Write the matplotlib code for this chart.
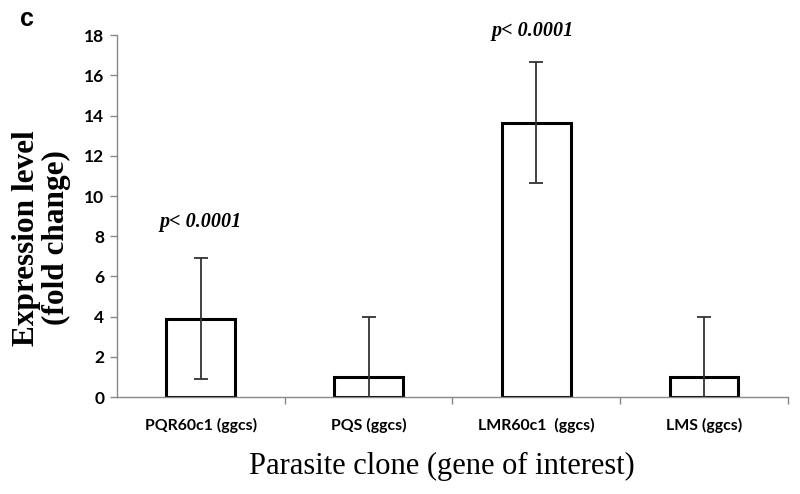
import matplotlib
matplotlib.use("Agg")
import matplotlib.pyplot as plt
import numpy as np

categories = ["PQR60c1 (ggcs)", "PQS (ggcs)", "LMR60c1  (ggcs)", "LMS (ggcs)"]
values = [3.9, 1.0, 13.65, 1.0]
errors = [3.0, 3.0, 3.0, 3.0]
yticks = [0, 2, 4, 6, 8, 10, 12, 14, 16, 18]
annot_index = [0, 2]
annot_text = ["p< 0.0001", "p< 0.0001"]

fig = plt.figure(figsize=(8, 4.94), dpi=100)
ax = fig.add_axes([0.146, 0.196, 0.839, 0.733])

x = np.arange(len(categories))
ax.bar(x, values, width=0.41, facecolor="white", edgecolor="black", linewidth=2.2, zorder=2)
ax.errorbar(x, values, yerr=errors, fmt="none", ecolor="#333333", elinewidth=1.3,
            capsize=5, capthick=1.3, zorder=3, clip_on=True)

ax.set_xlim(-0.5, 3.5)
ax.set_ylim(0, 18)
ax.set_yticks(yticks)
ax.set_yticklabels([str(t) for t in yticks], fontfamily="Lato", fontweight="bold", fontsize=12.5)
ax.set_xticks(x)
ax.set_xticklabels(categories, fontfamily="Lato", fontweight="bold", fontsize=11.4)
ax.set_xticks(np.arange(0.5, 3.6, 1.0), minor=True)
ax.tick_params(axis="x", which="major", length=0, pad=15)
ax.tick_params(axis="x", which="minor", length=5, color="#888888", width=1)
ax.tick_params(axis="y", length=5, color="#888888", width=1, pad=4)

for s in ["top", "right"]:
    ax.spines[s].set_visible(False)
for s in ["left", "bottom"]:
    ax.spines[s].set_color("#888888")
    ax.spines[s].set_linewidth(1)

gaps = [1.3, 1.05]
for k, (i, txt) in enumerate(zip(annot_index, annot_text)):
    ax.text(x[i] - 0.02 * k, values[i] + errors[i] + gaps[k], txt, ha="center", va="bottom",
            fontfamily="Liberation Serif", fontweight="bold", fontstyle="italic", fontsize=14.5,
            clip_on=False)

ax.set_ylabel("Expression level\n(fold change)", fontfamily="Liberation Serif",
              fontweight="bold", fontsize=22.5, linespacing=1.05)
ax.yaxis.set_label_coords(-0.068, 0.44)
ax.set_xlabel("Parasite clone (gene of interest)", fontfamily="Liberation Serif",
              fontsize=22)
ax.xaxis.set_label_coords(0.484, -0.152)

fig.text(0.034, 0.962, "c", fontfamily="Liberation Sans", fontweight="bold", fontsize=18,
         ha="center", va="center")

fig.savefig("out.png", dpi=100)
